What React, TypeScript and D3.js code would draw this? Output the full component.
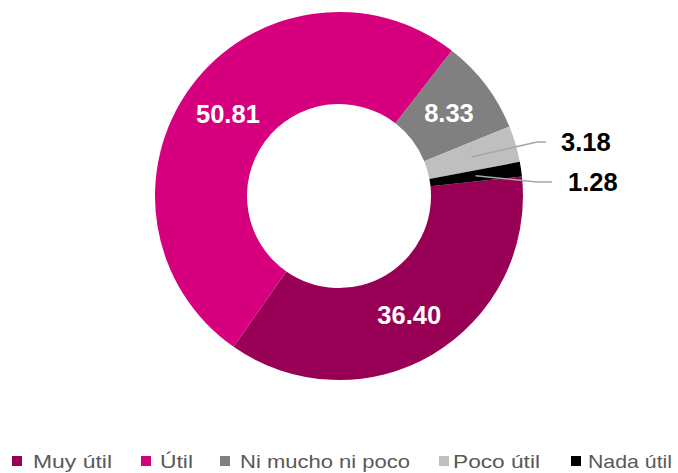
import React from 'react';
import * as d3 from 'd3';

const categories = ['Muy útil', 'Útil', 'Ni mucho ni poco', 'Poco útil', 'Nada útil'];
const values = [36.4, 50.81, 8.33, 3.18, 1.28];
const valueLabels = ['36.40', '50.81', '8.33', '3.18', '1.28'];
const colors = ['#970054', '#d6007f', '#808080', '#bfbfbf', '#000000'];

const W = 678;
const H = 473;
const cx = 339;
const cy = 196;
const rOuter = 184;
const rInner = 92;
const startDeg = 83.9;

// layout for labels placed outside with leader lines
const outside: Record<number, { elbowX: number; y: number; endX: number; textX: number }> = {
  3: { elbowX: 537, y: 142, endX: 546, textX: 561 },
  4: { elbowX: 537, y: 182, endX: 552, textX: 568 },
};

// legend layout
const legendX = [12, 141, 220, 439, 571];
const legendTextX = [33, 160, 240, 453, 588];
const legendTextLen = [79, 33, 170, 87, 84];
const legendY = 461;

export default function App() {
  const a0 = (startDeg * Math.PI) / 180;
  const pie = d3
    .pie<number>()
    .sort(null)
    .value((d) => d)
    .startAngle(a0)
    .endAngle(a0 + 2 * Math.PI);
  const arcs = pie(values);
  const arc = d3.arc<d3.PieArcDatum<number>>().innerRadius(rInner).outerRadius(rOuter);

  return (
    <svg
      width={W}
      height={H}
      style={{ position: 'absolute', left: 0, top: 0, background: '#fff' }}
      fontFamily="'Liberation Sans', Arial, sans-serif"
    >
      <rect x={0} y={0} width={W} height={H} fill="#fff" />
      <g transform={`translate(${cx},${cy})`}>
        {arcs.map((a, i) => (
          <path key={i} d={arc(a) || ''} fill={colors[i]} />
        ))}
      </g>
      {arcs.map((a, i) => {
        const [x, y] = arc.centroid(a);
        const o = outside[i];
        if (o) {
          const sx = cx + x;
          const sy = cy + y;
          return (
            <g key={i}>
              <polyline
                points={`${sx},${sy} ${o.elbowX},${o.y} ${o.endX},${o.y}`}
                fill="none"
                stroke="#a6a6a6"
                strokeWidth={1.5}
              />
              <text x={o.textX} y={o.y} dy="0.36em" fontSize={25.5} fontWeight="bold" fill="#000">
                {valueLabels[i]}
              </text>
            </g>
          );
        }
        return (
          <text
            key={i}
            x={cx + x}
            y={cy + y}
            dy="0.36em"
            textAnchor="middle"
            fontSize={25.5}
            fontWeight="bold"
            fill="#fff"
          >
            {valueLabels[i]}
          </text>
        );
      })}
      <g>
        {categories.map((c, i) => (
          <g key={c}>
            <rect x={legendX[i]} y={legendY - 5} width={10} height={10} fill={colors[i]} />
            <text
              x={legendTextX[i]}
              y={legendY}
              dy="0.36em"
              fontSize={18.5}
              fill="#595959"
              textLength={legendTextLen[i]}
              lengthAdjust="spacingAndGlyphs"
            >
              {c}
            </text>
          </g>
        ))}
      </g>
    </svg>
  );
}
